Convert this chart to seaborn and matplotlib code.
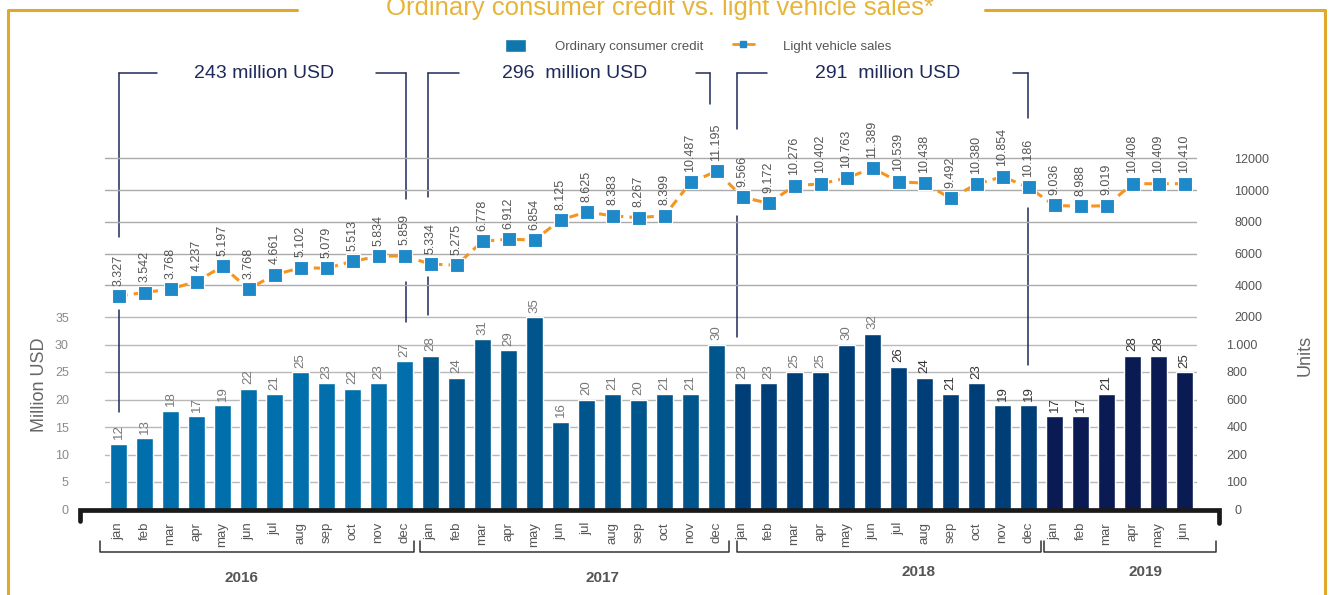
import matplotlib
matplotlib.use('Agg')
import matplotlib.pyplot as plt
import matplotlib.transforms as mtransforms
from matplotlib.lines import Line2D
from matplotlib.patches import Patch
import numpy as np
import pandas as pd
import seaborn as sns

# canvas size in px
W, H = 1332, 595

months = ['jan', 'feb', 'mar', 'apr', 'may', 'jun', 'jul', 'aug', 'sep', 'oct', 'nov', 'dec']
years = ['2016', '2017', '2018', '2019']
months_per_year = [12, 12, 12, 6]

# ordinary consumer credit, million USD
credit_2016 = [12, 13, 18, 17, 19, 22, 21, 25, 23, 22, 23, 27]
credit_2017 = [28, 24, 31, 29, 35, 16, 20, 21, 20, 21, 21, 30]
credit_2018 = [23, 23, 25, 25, 30, 32, 26, 24, 21, 23, 19, 19]
credit_2019 = [17, 17, 21, 28, 28, 25]

# light vehicle sales, units
sales_2016 = [3327, 3542, 3768, 4237, 5197, 3768, 4661, 5102, 5079, 5513, 5834, 5859]
sales_2017 = [5334, 5275, 6778, 6912, 6854, 8125, 8625, 8383, 8267, 8399, 10487, 11195]
sales_2018 = [9566, 9172, 10276, 10402, 10763, 11389, 10539, 10438, 9492, 10380, 10854, 10186]
sales_2019 = [9036, 8988, 9019, 10408, 10409, 10410]

left_ticks = [0, 5, 10, 15, 20, 25, 30, 35]
right_low_labels = ['0', '100', '200', '400', '600', '800', '1.000']
right_high_ticks = [2000, 4000, 6000, 8000, 10000, 12000]

period_labels = ['243 million USD', '296  million USD', '291  million USD']

year_colors = ['#006FAB', '#00568C', '#003E78', '#0A1A52']
orange = '#F7941D'
marker_blue = '#1E89C9'
navy = '#1F2A5C'
gold = '#E0A92A'

df = pd.DataFrame({
    'year': np.repeat(years, months_per_year),
    'month': months * 3 + months[:6],
    'credit': credit_2016 + credit_2017 + credit_2018 + credit_2019,
    'sales': sales_2016 + sales_2017 + sales_2018 + sales_2019,
})
df['pos'] = np.arange(len(df))

sns.set_theme(style='white')
plt.rcParams['font.family'] = ['Liberation Sans', 'DejaVu Sans']

fig = plt.figure(figsize=(W / 100, H / 100), dpi=100)


def fx(px):
    return px / W


def fy(py):
    return 1 - py / H


# axes geometry (pixels)
ax_l, ax_r = 105, 1197
y0, ytop = 509.5, 60
px_unit = 27.5 / 5          # px per million USD
y_2000, y_12000 = 317, 158.5
u = 10000 / (y_2000 - y_12000)  # units per px on the right scale

ax = fig.add_axes([fx(ax_l), fy(y0), fx(ax_r - ax_l), (y0 - ytop) / H])

sns.barplot(data=df, x='pos', y='credit', hue='year', palette=year_colors,
            dodge=False, width=0.65, saturation=1, legend=False, ax=ax, zorder=2)
ax.set_xlim(-0.52, 41.48)
ax.set_ylim(0, (y0 - ytop) / px_unit)

ax2 = ax.twinx()
ax2.set_ylim(2000 - (y0 - y_2000) * u, 2000 + (y_2000 - ytop) * u)

sns.lineplot(data=df, x='pos', y='sales', ax=ax2, color=orange, lw=2.2,
             linestyle=(0, (3, 2)), marker='s', markersize=9.5,
             markerfacecolor=marker_blue, markeredgecolor='white',
             markeredgewidth=0.8, zorder=5)
ax2.set_xlim(-0.52, 41.48)

# grid lines
for t in left_ticks[1:]:
    ax.axhline(t, color='#B8B8B8', lw=1, zorder=0)
for t in right_high_ticks[1:]:
    ax2.axhline(t, color='#AAAAAA', lw=1, zorder=0)

for a in (ax, ax2):
    for s in a.spines.values():
        s.set_visible(False)
    a.set_xlabel('')
    a.set_ylabel('')

ax.set_xticks(df['pos'], df['month'], rotation=90)
ax.tick_params(axis='x', length=0, pad=9, labelsize=9.5, labelcolor='#555555')
ax.set_yticks(left_ticks)
ax.tick_params(axis='y', length=0, pad=26, labelsize=9, labelcolor='#8A8A8A')

k = u * px_unit
low_pos = [2000 + (t - 35) * k for t in left_ticks[:-1]]
ax2.set_yticks(low_pos + right_high_ticks,
               right_low_labels + [str(t) for t in right_high_ticks])
ax2.tick_params(axis='y', length=0, pad=27, labelsize=9, labelcolor='#555555')
shift = mtransforms.ScaledTranslation(-8 / 100, 0, fig.dpi_scale_trans)
for tick in ax2.yaxis.get_major_ticks()[1:7]:
    tick.label2.set_transform(tick.label2.get_transform() + shift)

# value labels
for i, (x, v) in enumerate(zip(df['pos'], df['credit'])):
    ax.text(x, v + 0.8, str(v), rotation=90, ha='center', va='bottom',
            fontsize=9.5, color='#777777' if i < 30 else '#333333')
for x, v in zip(df['pos'], df['sales']):
    ax2.annotate(f'{v / 1000:.3f}', (x, v), xytext=(0, 7.5), textcoords='offset points',
                 rotation=90, ha='center', va='bottom', fontsize=9, color='#555555')

fig.text(fx(40), fy(385), 'Million USD', rotation=90, ha='center', va='center',
         fontsize=13, color='#666666')
fig.text(fx(1305), fy(355), 'Units', rotation=90, ha='center', va='center',
         fontsize=13, color='#666666')

# thick base line
fig.add_artist(Line2D([fx(80), fx(80), fx(1219), fx(1219)],
                      [fy(521), fy(510), fy(510), fy(523)],
                      transform=fig.transFigure, color='#1A1A1A', lw=3.4,
                      solid_joinstyle='miter'))

trans = mtransforms.blended_transform_factory(ax.transData, fig.transFigure)

# year brackets
year_spans = [(-0.71, 11.37), (11.6, 23.48), (23.79, 35.48), (35.6, 42.2)]
year_text_x = [4.71, 18.6, 30.75, 39.5]
year_text_y = [578, 578, 572, 572]
for (xa, xb), tx, ty, yr in zip(year_spans, year_text_x, year_text_y, years):
    ax.plot([xa, xa, xb, xb], [fy(541), fy(552), fy(552), fy(541)], transform=trans,
            color='#333333', lw=1.1, clip_on=False)
    ax.text(tx, fy(ty), yr, transform=trans, ha='center', va='center',
            fontsize=11, fontweight='bold', color='#555555')

# period total brackets
brackets = [
    dict(xl=0.0, xr=11.05, sl=1.48, sr=1.15, tx=5.6,
         vl=[(73, 237), (310, 412)], vr=[(73, 199), (282, 322)]),
    dict(xl=11.9, xr=22.75, sl=1.2, sr=0.55, tx=17.56,
         vl=[(73, 197), (277, 315)], vr=[(73, 104)]),
    dict(xl=23.78, xr=34.98, sl=1.18, sr=0.58, tx=29.6,
         vl=[(73, 129), (216, 337)], vr=[(73, 118), (208, 365)]),
]
for b, lab in zip(brackets, period_labels):
    ax.plot([b['xl'], b['xl'] + b['sl']], [fy(73), fy(73)], transform=trans,
            color=navy, lw=1.1, clip_on=False)
    ax.plot([b['xr'] - b['sr'], b['xr']], [fy(73), fy(73)], transform=trans,
            color=navy, lw=1.1, clip_on=False)
    for xx, segs in ((b['xl'], b['vl']), (b['xr'], b['vr'])):
        for ya, yb in segs:
            ax.plot([xx, xx], [fy(ya), fy(yb)], transform=trans,
                    color=navy, lw=1.1, clip_on=False)
    ax.text(b['tx'], fy(73), lab, transform=trans, ha='center', va='center',
            fontsize=14, color=navy)

# gold frame
fig.add_artist(Line2D([fx(297), fx(8), fx(8)], [fy(10), fy(10), fy(600)],
                      transform=fig.transFigure, color=gold, lw=2.2))
fig.add_artist(Line2D([fx(985), fx(1325), fx(1325)], [fy(10), fy(10), fy(600)],
                      transform=fig.transFigure, color=gold, lw=2.2))
fig.text(fx(660), fy(15), 'Ordinary consumer credit vs. light vehicle sales*',
         ha='center', va='baseline', fontsize=18.5, color='#E7B43A')

handles = [Patch(facecolor='#0E77AB'),
           Line2D([], [], color=orange, lw=2, marker='s', markersize=5,
                  markerfacecolor=marker_blue, markeredgecolor=marker_blue)]
fig.legend(handles, ['Ordinary consumer credit', 'Light vehicle sales'],
           loc='center', bbox_to_anchor=(fx(698), fy(46)), ncol=2, frameon=False,
           fontsize=9.5, handlelength=1.6, handleheight=1.1, handletextpad=2.2,
           columnspacing=2.2, labelcolor='#555555')

fig.savefig('out.png', dpi=100)
